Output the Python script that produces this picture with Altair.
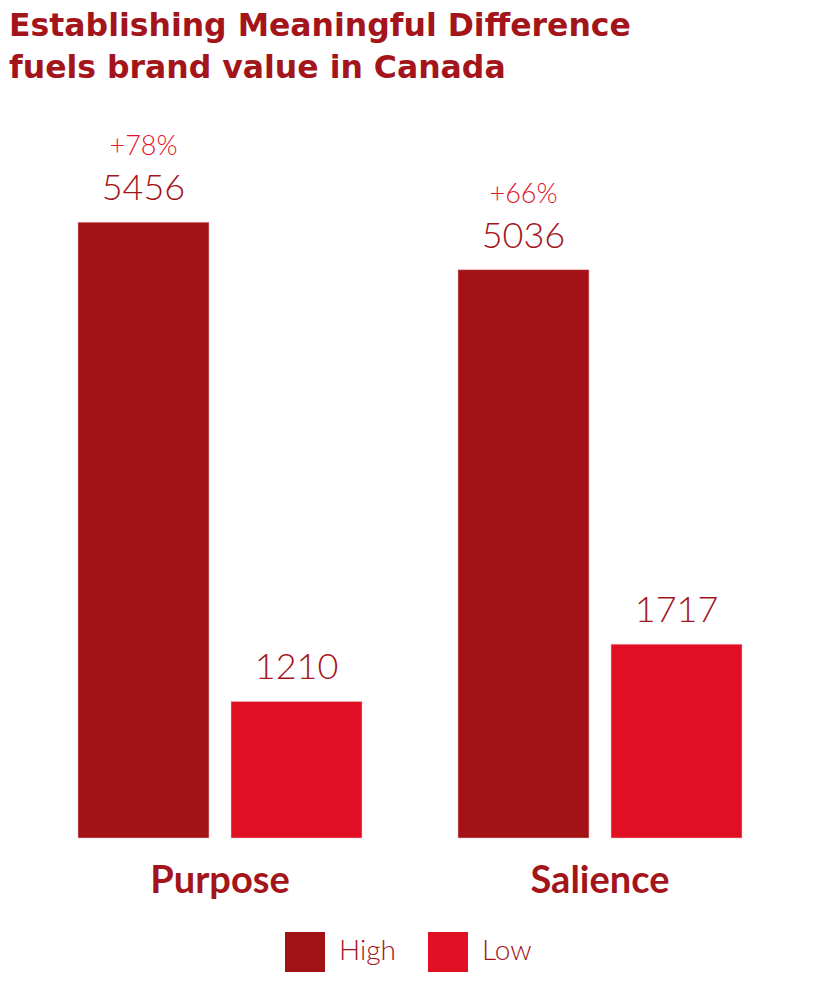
import altair as alt
import pandas as pd

categories = ["Purpose", "Purpose", "Salience", "Salience"]
levels = ["High", "Low", "High", "Low"]
values = [5456, 1210, 5036, 1717]
uplift = ["+78%", "", "+66%", ""]

DARK = "#A31214"
BRIGHT = "#E10F24"
TEXT_DARK = "#A3151A"
TEXT_BRIGHT = "#E1142B"

df = pd.DataFrame({"category": categories, "level": levels, "value": values, "uplift": uplift})

ymax = 6539
x = alt.X("category:N", scale=alt.Scale(paddingInner=0.2526, paddingOuter=0.1263),
          axis=alt.Axis(title=None, labelAngle=0, domain=False, ticks=False,
                        labelFont="Lato", labelFontSize=38, labelFontWeight="bold",
                        labelColor=TEXT_DARK, labelPadding=24))
xo = alt.XOffset("level:N", scale=alt.Scale(paddingInner=0.144, paddingOuter=0))
y = alt.Y("value:Q", scale=alt.Scale(domain=[0, ymax], nice=False), axis=None)

base = alt.Chart(df).encode(x=x, xOffset=xo, y=y)

bars = base.mark_bar(stroke="#f0c0c0", strokeWidth=0.5).encode(
    color=alt.Color("level:N", scale=alt.Scale(domain=["High", "Low"], range=[DARK, BRIGHT]),
                    legend=alt.Legend(orient="none", legendX=255, legendY=832, direction="horizontal",
                                      title=None, symbolType="square", symbolSize=1600,
                                      symbolStrokeWidth=0, labelFont="Lato", labelFontSize=28,
                                      labelFontWeight=300, labelColor=TEXT_DARK,
                                      labelOffset=14, columnPadding=32, padding=0))
)

vals = base.mark_text(font="Lato", fontSize=36, fontWeight=300, color=TEXT_DARK,
                      baseline="alphabetic", dy=-22).encode(text="value:Q")

pcts = base.mark_text(font="Lato", fontSize=27, fontWeight=300, color=TEXT_BRIGHT,
                      baseline="alphabetic", dy=-67).encode(text="uplift:N")

chart = alt.layer(bars, vals, pcts).properties(
    width=760, height=738,
    autosize=alt.AutoSizeParams(type="none"),
    padding={"left": 22, "top": 92, "right": 10, "bottom": 150},
    title=alt.TitleParams(text=["Establishing Meaningful Difference", "fuels brand value in Canada"],
                          anchor="start", frame="group", dx=-21, dy=35, font="DejaVu Sans", fontSize=31.5,
                          fontWeight="bold", color=TEXT_DARK, lineHeight=42, offset=26,
                          baseline="alphabetic"),
).configure_view(stroke=None)

chart.save("out.html", embed_options={"renderer": "svg", "actions": False})
